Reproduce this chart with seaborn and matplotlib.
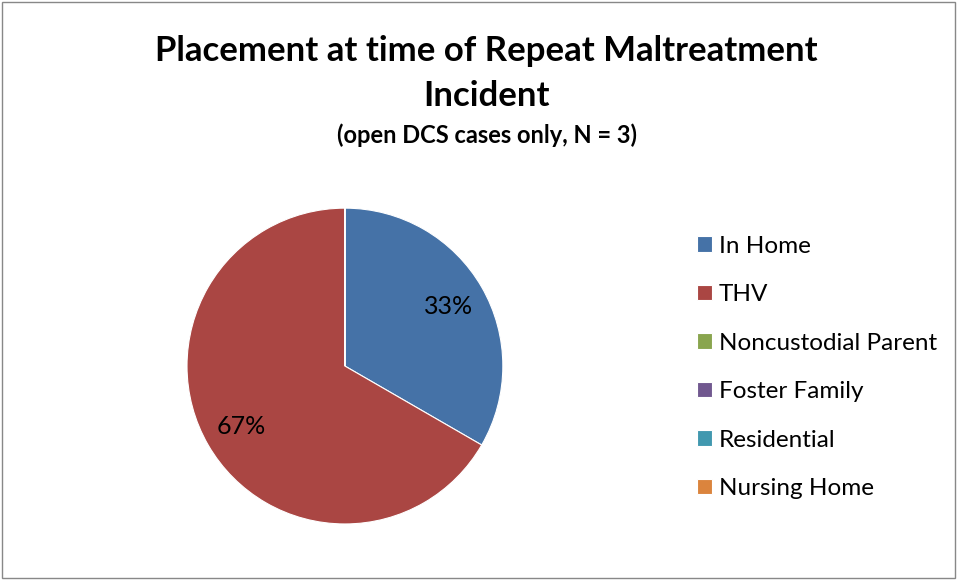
import seaborn as sns
import matplotlib.pyplot as plt
from matplotlib.patches import Rectangle

# datos del grafico
categorias = ['In Home', 'THV', 'Noncustodial Parent', 'Foster Family',
              'Residential', 'Nursing Home']
casos = [1, 2, 0, 0, 0, 0]
colores = ['#4572A7', '#AA4643', '#89A54E', '#71588F', '#4198AF', '#DB843D']

sns.set_theme(style="white")
plt.rcParams['font.family'] = ['Lato', 'DejaVu Sans']

fig = plt.figure(figsize=(9.6, 5.84), dpi=100)
ax = fig.add_axes([0.1948, 0.1027, 0.329, 0.541])


def etiqueta(pct):
    # no mostrar las porciones vacias
    return f"{pct:.0f}%" if pct > 0.5 else ''


porciones, _, textos = ax.pie(casos, colors=colores, startangle=90,
                              counterclock=False, autopct=etiqueta,
                              pctdistance=0.76,
                              wedgeprops=dict(edgecolor='white', linewidth=0.8),
                              textprops=dict(fontsize=18, color='black'))
ax.set_xlim(-1, 1)
ax.set_ylim(-1, 1)
ax.set_aspect('equal')

fig.text(0.507, 0.912, "Placement at time of Repeat Maltreatment",
         ha='center', va='center', fontsize=25, fontweight='bold', color='black')
fig.text(0.507, 0.835, "Incident", ha='center', va='center',
         fontsize=25, fontweight='bold', color='black')
fig.text(0.507, 0.768, "(open DCS cases only, N = 3)", ha='center',
         va='center', fontsize=17, fontweight='bold', color='black')

fig.legend(porciones, categorias, loc='upper left',
           bbox_to_anchor=(0.716, 0.613), frameon=False, fontsize=17.5,
           handlelength=0.6, handleheight=0.6, handletextpad=0.3,
           labelspacing=1.13, borderaxespad=0, labelcolor='black')

# borde del area del grafico
fig.patches.append(Rectangle((0.002, 0.01), 0.993, 0.986, transform=fig.transFigure,
                             fill=False, edgecolor='#888888', linewidth=1))

fig.savefig('out.png', dpi=100)
